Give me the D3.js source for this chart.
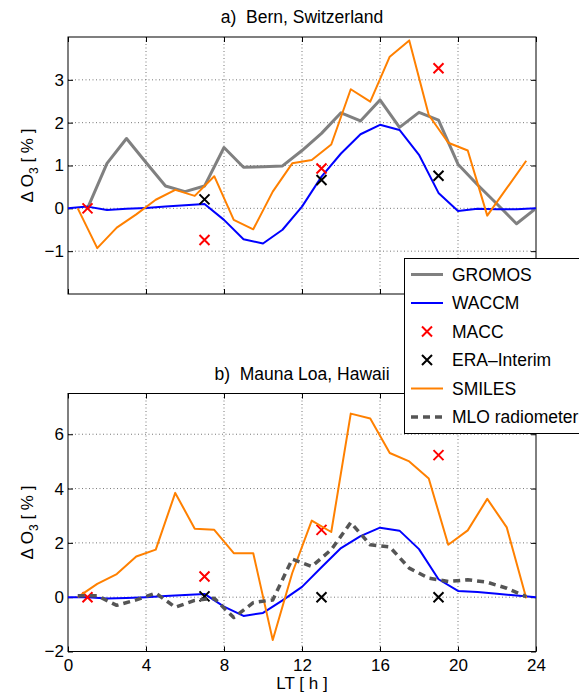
<!DOCTYPE html>
<html>
<head>
<meta charset="utf-8">
<script src="https://cdn.jsdelivr.net/npm/d3@7"></script>
<style>
  body { margin: 0; background: #fff; }
  text { font-family: "Liberation Sans", Arial, sans-serif; fill: #000; }
</style>
</head>
<body>
<svg id="chart" width="579" height="698"></svg>
<script>
/************
** data
*************/
var hoursFull = [0,1,2,3,4,5,6,7,8,9,10,11,12,13,14,15,16,17,18,19,20,21,22,23,24];
var hoursGromos = [1,2,3,4,5,6,7,8,9,10,11,12,13,14,15,16,17,18,19,20,21,22,23,24];
var hoursHalf = [0.5,1.5,2.5,3.5,4.5,5.5,6.5,7.5,8.5,9.5,10.5,11.5,12.5,13.5,14.5,15.5,16.5,17.5,18.5,19.5,20.5,21.5,22.5,23.5];
var hoursMacc = [1,7,13,19];
var hoursEra = [7,13,19];

// a) Bern
var bernGromos = [0,1.05,1.63,1.07,0.52,0.39,0.52,1.42,0.96,0.97,0.99,1.35,1.75,2.23,2.04,2.53,1.89,2.24,2.06,1.03,0.55,0.1,-0.36,0];
var bernWaccm = [0,0.04,-0.04,-0.01,0.01,0.04,0.07,0.1,-0.27,-0.72,-0.82,-0.5,0.04,0.74,1.28,1.73,1.95,1.83,1.25,0.36,-0.06,-0.01,-0.02,-0.02,0];
var bernSmiles = [0,-0.93,-0.45,-0.14,0.2,0.43,0.29,0.75,-0.27,-0.49,0.39,1.05,1.13,1.49,2.78,2.49,3.54,3.92,2.18,1.53,1.35,-0.17,0.47,1.11];
var bernMacc = [0,-0.74,0.93,3.27];
var bernEra = [0.21,0.66,0.76];

// b) Mauna Loa
var maunaWaccm = [0,0,-0.05,-0.03,0,0.04,0.08,0.12,-0.35,-0.69,-0.58,-0.12,0.38,1.1,1.81,2.25,2.56,2.45,1.77,0.66,0.23,0.19,0.13,0.06,0];
var maunaSmiles = [0,0.49,0.85,1.5,1.75,3.84,2.52,2.48,1.62,1.62,-1.58,0.89,2.82,2.4,6.76,6.58,5.31,5.0,4.37,1.93,2.46,3.62,2.57,-0.04];
var maunaMlo = [0.05,0.05,-0.3,-0.1,0.15,-0.37,-0.12,-0.04,-0.75,-0.2,-0.1,1.4,1.13,1.75,2.75,1.93,1.85,1.07,0.7,0.58,0.64,0.55,0.33,0.02];
var maunaMacc = [0,0.76,2.48,5.23];
var maunaEra = [0.03,0,0];

var xTicks = [0,4,8,12,16,20,24];
var bernYTicks = [-1,0,1,2,3];
var maunaYTicks = [-2,0,2,4,6];

/************
** styles
*************/
var gromosColor = "#808080";
var waccmColor = "#0000ff";
var maccColor = "#ff0000";
var eraColor = "#000000";
var smilesColor = "#ff8000";
var mloColor = "#555555";

var svg = d3.select("#chart");
var left = 68, right = 536;

function zip(xs, ys) {
    return xs.map(function(x, i) { return [x, ys[i]]; });
}

function drawPanel(opt) {
    var x = d3.scaleLinear().domain([0, 24]).range([left, right]);
    var y = d3.scaleLinear().domain(opt.yDomain).range([opt.bottom, opt.top]);
    var g = svg.append("g");

    // grid
    g.selectAll(".gx").data(xTicks.slice(1, -1)).enter().append("line")
        .attr("x1", function(d){ return x(d); }).attr("x2", function(d){ return x(d); })
        .attr("y1", opt.top).attr("y2", opt.bottom)
        .attr("stroke", "#777").attr("stroke-width", 1).attr("stroke-dasharray", "1,2.5");
    g.selectAll(".gy").data(opt.yTicks.filter(function(d){ return d > opt.yDomain[0]; })).enter().append("line")
        .attr("x1", left).attr("x2", right)
        .attr("y1", function(d){ return y(d); }).attr("y2", function(d){ return y(d); })
        .attr("stroke", "#777").attr("stroke-width", 1).attr("stroke-dasharray", "1,2.5");

    // axes (ticks point inward on all sides)
    var tick = -5;
    g.append("g").attr("transform", "translate(0," + opt.bottom + ")")
        .call(d3.axisBottom(x).tickValues(xTicks).tickSizeInner(tick).tickSizeOuter(0)
            .tickFormat(opt.xLabels ? d3.format("d") : ""));
    g.append("g").attr("transform", "translate(0," + opt.top + ")")
        .call(d3.axisTop(x).tickValues(xTicks).tickSizeInner(tick).tickSizeOuter(0).tickFormat(""));
    g.append("g").attr("transform", "translate(" + left + ",0)")
        .call(d3.axisLeft(y).tickValues(opt.yTicks).tickSizeInner(tick).tickSizeOuter(0)
            .tickFormat(function(d){ return d < 0 ? "\u2212" + (-d) : d; }));
    g.append("g").attr("transform", "translate(" + right + ",0)")
        .call(d3.axisRight(y).tickValues(opt.yTicks).tickSizeInner(tick).tickSizeOuter(0).tickFormat(""));
    g.selectAll(".domain").remove();
    g.selectAll(".tick line").attr("stroke", "#000");
    g.selectAll(".tick text").attr("font-size", 17).attr("fill", "#000")
        .attr("font-family", "Liberation Sans, Arial, sans-serif");
    g.selectAll(".tick text").each(function(){
        var t = d3.select(this);
        if (t.attr("x") !== null && +t.attr("x") < 0) t.attr("x", -4);
        if (t.attr("y") !== null && +t.attr("y") > 0) t.attr("y", 7);
    });
    g.append("rect").attr("x", left).attr("y", opt.top)
        .attr("width", right - left).attr("height", opt.bottom - opt.top)
        .attr("fill", "none").attr("stroke", "#000").attr("stroke-width", 1);

    // series
    var line = d3.line().x(function(d){ return x(d[0]); }).y(function(d){ return y(d[1]); });
    opt.series.forEach(function(s) {
        if (s.kind === "line") {
            g.append("path").datum(zip(s.xs, s.ys)).attr("d", line)
                .attr("fill", "none").attr("stroke", s.color).attr("stroke-width", s.width)
                .attr("stroke-dasharray", s.dash || null).attr("stroke-linejoin", "round");
        } else {
            g.selectAll(null).data(zip(s.xs, s.ys)).enter().append("path")
                .attr("d", function(d){
                    var cx = x(d[0]), cy = y(d[1]), r = 5;
                    return "M" + (cx - r) + "," + (cy - r) + "L" + (cx + r) + "," + (cy + r) +
                           "M" + (cx - r) + "," + (cy + r) + "L" + (cx + r) + "," + (cy - r);
                })
                .attr("stroke", s.color).attr("stroke-width", 2).attr("fill", "none");
        }
    });

    // title
    svg.append("text").attr("x", (left + right) / 2).attr("y", opt.top - 14)
        .attr("text-anchor", "middle").attr("font-size", 17.5).attr("xml:space", "preserve")
        .text(opt.title);

    // y label
    var yl = svg.append("text")
        .attr("transform", "translate(33," + ((opt.top + opt.bottom) / 2) + ") rotate(-90)")
        .attr("text-anchor", "middle").attr("font-size", 17).attr("xml:space", "preserve");
    yl.append("tspan").text("\u0394 O");
    yl.append("tspan").attr("font-size", 12).attr("dy", 5).text("3");
    yl.append("tspan").attr("dy", -5).text(" [ % ]");
}

drawPanel({
    title: "a)  Bern, Switzerland",
    top: 37, bottom: 294, yDomain: [-2, 4], yTicks: bernYTicks, xLabels: false,
    series: [
        {kind: "line", xs: hoursGromos, ys: bernGromos, color: gromosColor, width: 3},
        {kind: "line", xs: hoursFull, ys: bernWaccm, color: waccmColor, width: 2},
        {kind: "x", xs: hoursMacc, ys: bernMacc, color: maccColor},
        {kind: "x", xs: hoursEra, ys: bernEra, color: eraColor},
        {kind: "line", xs: hoursHalf, ys: bernSmiles, color: smilesColor, width: 2}
    ]
});

drawPanel({
    title: "b)  Mauna Loa, Hawaii",
    top: 393.5, bottom: 651.5, yDomain: [-2, 7.5], yTicks: maunaYTicks, xLabels: true,
    series: [
        {kind: "line", xs: hoursFull, ys: maunaWaccm, color: waccmColor, width: 2},
        {kind: "x", xs: hoursMacc, ys: maunaMacc, color: maccColor},
        {kind: "x", xs: hoursEra, ys: maunaEra, color: eraColor},
        {kind: "line", xs: hoursHalf, ys: maunaSmiles, color: smilesColor, width: 2},
        {kind: "line", xs: hoursHalf, ys: maunaMlo, color: mloColor, width: 3.5, dash: "7,5"}
    ]
});

svg.append("text").attr("x", (left + right) / 2).attr("y", 689)
    .attr("text-anchor", "middle").attr("font-size", 17).attr("xml:space", "preserve")
    .text("LT [ h ]");

/************
** legend
*************/
var legendItems = [
    {name: "GROMOS", kind: "line", color: gromosColor, width: 3},
    {name: "WACCM", kind: "line", color: waccmColor, width: 2},
    {name: "MACC", kind: "x", color: maccColor},
    {name: "ERA\u2013Interim", kind: "x", color: eraColor},
    {name: "SMILES", kind: "line", color: smilesColor, width: 2},
    {name: "MLO radiometer", kind: "line", color: mloColor, width: 3.5, dash: "7,5"}
];
var legend = svg.append("g");
legend.append("rect").attr("x", 404.5).attr("y", 258.5).attr("width", 220).attr("height", 175)
    .attr("fill", "#fff").attr("stroke", "#000").attr("stroke-width", 1);
var rows = legend.selectAll(".row").data(legendItems).enter().append("g")
    .attr("transform", function(d, i){ return "translate(0," + (274.5 + i * 28.5) + ")"; });
rows.each(function(d){
    var r = d3.select(this);
    if (d.kind === "line") {
        r.append("line").attr("x1", 411).attr("x2", 443).attr("y1", 0).attr("y2", 0)
            .attr("stroke", d.color).attr("stroke-width", d.width)
            .attr("stroke-dasharray", d.dash || null);
    } else {
        r.append("path").attr("d", "M422,-5L432,5M422,5L432,-5")
            .attr("stroke", d.color).attr("stroke-width", 2);
    }
});
rows.append("text").attr("x", 452).attr("y", 6).attr("font-size", 17.5)
    .text(function(d){ return d.name; });
</script>
</body>
</html>
